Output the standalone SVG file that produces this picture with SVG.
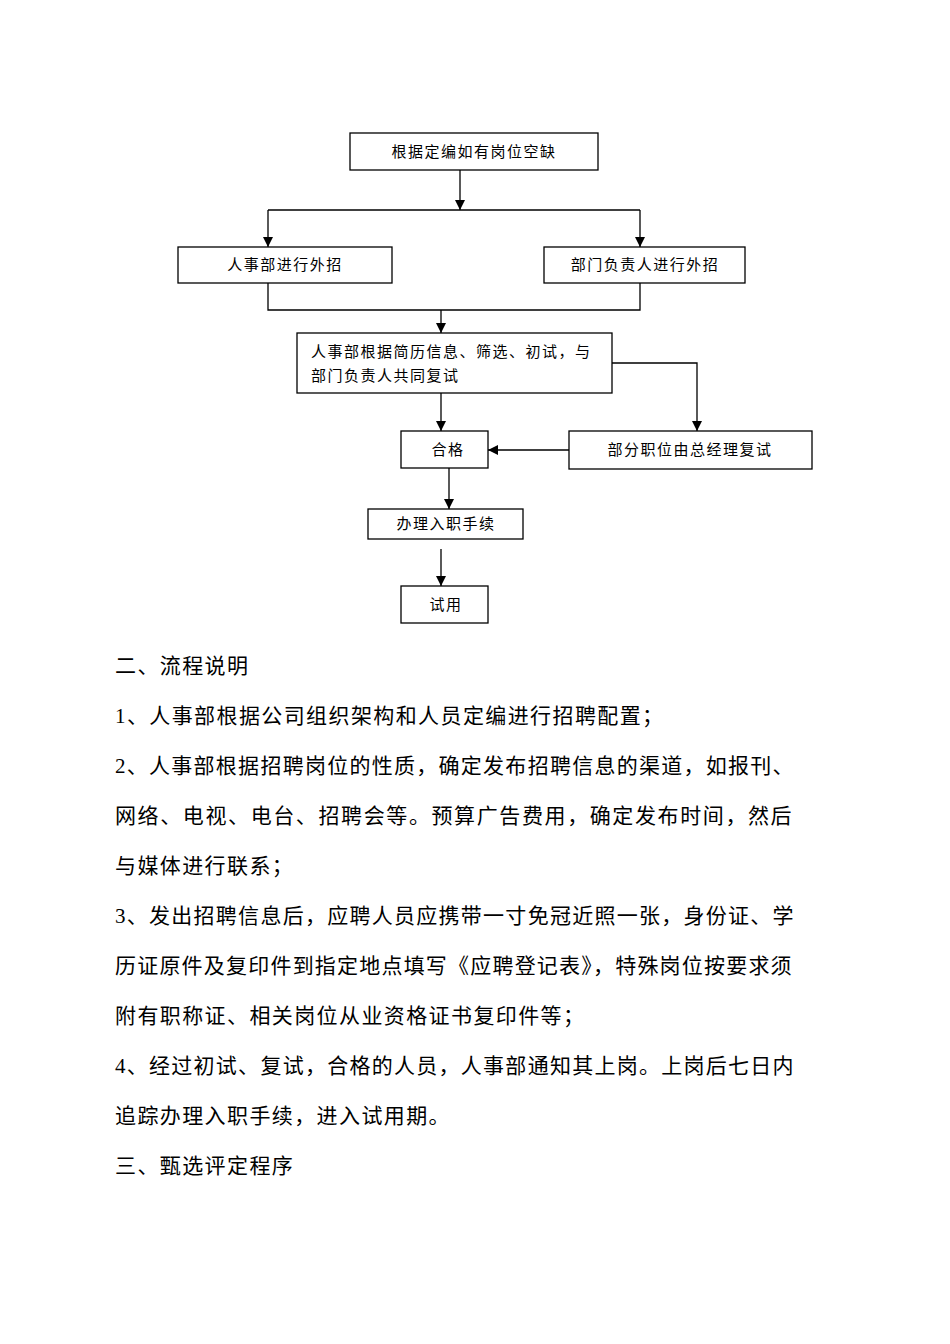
<svg xmlns="http://www.w3.org/2000/svg" width="950" height="1344" viewBox="0 0 950 1344">
<style>
.box{fill:#fff;stroke:#000;stroke-width:1.3}
.ln{fill:none;stroke:#000;stroke-width:1.3}
.t{font-family:"Liberation Serif","Noto Sans CJK SC",serif;font-size:15px;fill:#000;letter-spacing:1.5px}
.p{font-family:"Liberation Serif","Noto Sans CJK SC",serif;font-size:21px;fill:#000;letter-spacing:1.4px}
</style>
<defs>
<marker id="ah" viewBox="0 0 10 10" refX="10" refY="5" markerWidth="10" markerHeight="10" markerUnits="userSpaceOnUse" orient="auto">
<path d="M0,0 L10,5 L0,10 Z" fill="#000"/>
</marker>
</defs>
<rect width="950" height="1344" fill="#fff"/>
<g id="connectors">
<path class="ln" d="M460,170 V210" marker-end="url(#ah)"/>
<path class="ln" d="M268,210 H640"/>
<path class="ln" d="M268,210 V247" marker-end="url(#ah)"/>
<path class="ln" d="M640,210 V247" marker-end="url(#ah)"/>
<path class="ln" d="M268,283 V310 H640 V283"/>
<path class="ln" d="M441,310 V333" marker-end="url(#ah)"/>
<path class="ln" d="M612,363 H697 V431" marker-end="url(#ah)"/>
<path class="ln" d="M441,393 V431" marker-end="url(#ah)"/>
<path class="ln" d="M569,450 H488" marker-end="url(#ah)"/>
<path class="ln" d="M449,468 V509" marker-end="url(#ah)"/>
<path class="ln" d="M441,549 V586" marker-end="url(#ah)"/>
</g>
<g id="n1"><rect class="box" x="350" y="133" width="248" height="37"/><text class="t" x="474" y="157" text-anchor="middle">根据定编如有岗位空缺</text></g>
<g id="n2"><rect class="box" x="178" y="247" width="214" height="36"/><text class="t" x="285" y="270" text-anchor="middle">人事部进行外招</text></g>
<g id="n3"><rect class="box" x="544" y="247" width="201" height="36"/><text class="t" x="645" y="270" text-anchor="middle">部门负责人进行外招</text></g>
<g id="n4"><rect class="box" x="297" y="333" width="315" height="60"/><text class="t" x="311" y="357">人事部根据简历信息、筛选、初试，与</text><text class="t" x="311" y="381">部门负责人共同复试</text></g>
<g id="n5"><rect class="box" x="401" y="431" width="87" height="37"/><text class="t" x="448" y="455" text-anchor="middle">合格</text></g>
<g id="n6"><rect class="box" x="569" y="431" width="243" height="38"/><text class="t" x="690" y="455" text-anchor="middle">部分职位由总经理复试</text></g>
<g id="n7"><rect class="box" x="368" y="509" width="155" height="30"/><text class="t" x="446" y="529" text-anchor="middle">办理入职手续</text></g>
<g id="n8"><rect class="box" x="401" y="586" width="87" height="37"/><text class="t" x="446" y="610" text-anchor="middle">试用</text></g>
<g id="text">
<text class="p" x="115" y="673">二、流程说明</text>
<text class="p" x="115" y="723">1、人事部根据公司组织架构和人员定编进行招聘配置；</text>
<text class="p" x="115" y="773" textLength="680">2、人事部根据招聘岗位的性质，确定发布招聘信息的渠道，如报刊、</text>
<text class="p" x="115" y="823" textLength="678">网络、电视、电台、招聘会等。预算广告费用，确定发布时间，然后</text>
<text class="p" x="115" y="873">与媒体进行联系；</text>
<text class="p" x="115" y="923" textLength="680">3、发出招聘信息后，应聘人员应携带一寸免冠近照一张，身份证、学</text>
<text class="p" x="115" y="973" textLength="678">历证原件及复印件到指定地点填写《应聘登记表》，特殊岗位按要求须</text>
<text class="p" x="115" y="1023">附有职称证、相关岗位从业资格证书复印件等；</text>
<text class="p" x="115" y="1073" textLength="680">4、经过初试、复试，合格的人员，人事部通知其上岗。上岗后七日内</text>
<text class="p" x="115" y="1123">追踪办理入职手续，进入试用期。</text>
<text class="p" x="115" y="1173">三、甄选评定程序</text>
</g>
</svg>
